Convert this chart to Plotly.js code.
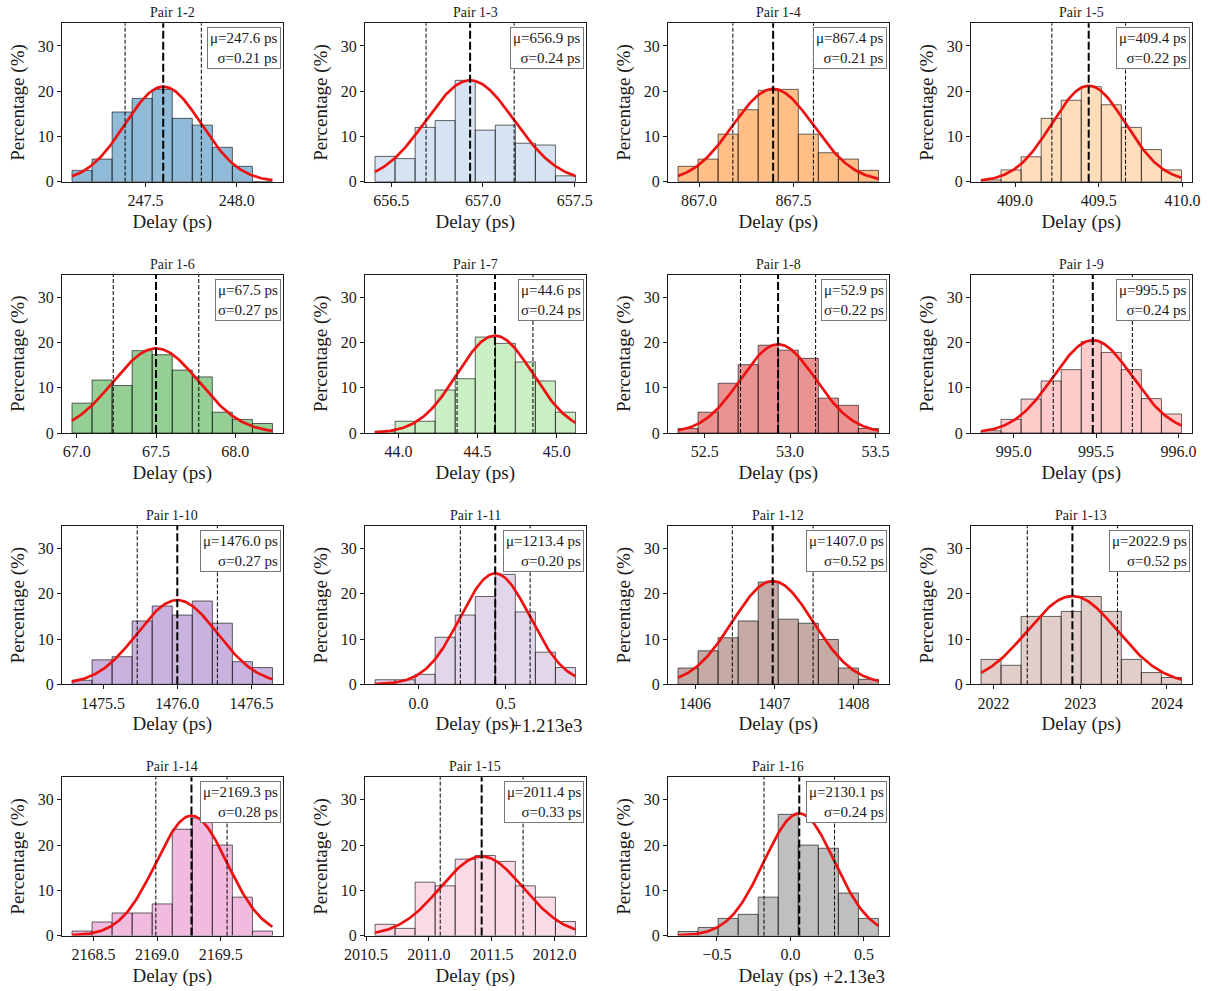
<!DOCTYPE html>
<html><head><meta charset="utf-8">
<script src="https://cdn.plot.ly/plotly-3.0.1.min.js"></script>
<style>html,body{margin:0;padding:0;background:#fff}#chart{width:1208px;height:991px}</style>
</head><body><div id="chart"></div>
<script>
// ---- data ----
const pairNames = ['Pair 1-2','Pair 1-3','Pair 1-4','Pair 1-5','Pair 1-6','Pair 1-7','Pair 1-8','Pair 1-9',
  'Pair 1-10','Pair 1-11','Pair 1-12','Pair 1-13','Pair 1-14','Pair 1-15','Pair 1-16'];
const binStart = [247.097, 656.412, 866.889, 408.797, 66.970, 43.851, 52.344, 994.802,
  1475.291, 1212.751, 1405.785, 2021.857, 2168.331, 2010.571, 2129.235];
const binWidth = [0.1099, 0.1092, 0.106, 0.1197, 0.1265, 0.1268, 0.1174, 0.1216,
  0.135, 0.1149, 0.253, 0.231, 0.1576, 0.1596, 0.1364];
const percent = [
  [2.5, 5.0, 15.4, 18.4, 20.4, 14.0, 12.5, 7.6, 3.4, 0],
  [5.6, 5.1, 12.0, 13.5, 22.4, 11.4, 12.5, 8.5, 8.1, 1.3],
  [3.4, 5.0, 10.5, 15.9, 20.2, 20.4, 10.5, 6.4, 5.0, 2.5],
  [0.4, 2.6, 5.5, 14.0, 18.0, 21.0, 17.0, 12.0, 7.1, 2.6],
  [6.6, 11.7, 10.5, 18.2, 17.3, 13.9, 12.4, 4.6, 3.0, 2.1],
  [0.4, 2.6, 2.6, 9.5, 12.0, 21.2, 19.8, 15.7, 11.5, 4.6],
  [1.0, 4.6, 11.0, 15.1, 19.4, 18.3, 16.5, 7.7, 6.1, 1.0],
  [0.5, 3.0, 7.5, 11.5, 14.0, 20.2, 17.8, 14.0, 7.6, 4.2],
  [0.9, 5.4, 6.1, 14.0, 17.3, 15.3, 18.4, 13.5, 5.0, 3.7],
  [1.0, 1.0, 2.2, 10.4, 15.3, 19.4, 24.3, 16.0, 7.1, 3.7],
  [3.6, 7.4, 10.3, 14.0, 22.6, 14.4, 13.5, 9.9, 3.6, 1.1],
  [5.5, 4.2, 15.0, 15.0, 16.1, 19.4, 16.1, 5.5, 2.6, 1.5],
  [1.0, 3.0, 5.0, 5.0, 7.0, 23.5, 26.0, 20.0, 8.5, 1.0],
  [2.5, 1.6, 11.8, 11.0, 16.9, 17.7, 16.4, 11.0, 8.5, 3.1],
  [0.9, 1.8, 3.8, 4.7, 8.5, 26.8, 20.0, 19.3, 9.4, 3.8]
];
const fitMu = [247.597, 656.93, 867.392, 409.44, 67.50, 44.61, 52.93, 995.48,
  1476.0, 1213.44, 1406.98, 2022.91, 2169.27, 2011.42, 2130.06];
const fitSigma = [0.209, 0.24, 0.213, 0.22, 0.27, 0.24, 0.22, 0.24,
  0.27, 0.20, 0.51, 0.52, 0.28, 0.33, 0.24];
const fitPeak = [21.0, 22.4, 20.5, 21.2, 18.7, 21.5, 19.6, 20.5,
  18.6, 24.5, 22.8, 19.5, 26.5, 17.5, 27.0];
const muText = ['247.6','656.9','867.4','409.4','67.5','44.6','52.9','995.5',
  '1476.0','1213.4','1407.0','2022.9','2169.3','2011.4','2130.1'];
const sigmaText = ['0.21','0.24','0.21','0.22','0.27','0.24','0.22','0.24',
  '0.27','0.20','0.52','0.52','0.28','0.33','0.24'];
const xOffset = [0,0,0,0,0,0,0,0,0,1213,0,0,0,0,2130];
const offsetText = ['','','','','','','','','','+1.213e3','','','','','+2.13e3'];
const xTickLabels = [
  ['247.5','248.0'], ['656.5','657.0','657.5'], ['867.0','867.5'], ['409.0','409.5','410.0'],
  ['67.0','67.5','68.0'], ['44.0','44.5','45.0'], ['52.5','53.0','53.5'], ['995.0','995.5','996.0'],
  ['1475.5','1476.0','1476.5'], ['0.0','0.5'], ['1406','1407','1408'], ['2022','2023','2024'],
  ['2168.5','2169.0','2169.5'], ['2010.5','2011.0','2011.5','2012.0'], ['\u22120.5','0.0','0.5']
];
const yTickVals = [0, 10, 20, 30];
const xTitle = 'Delay (ps)';
const yTitle = 'Percentage (%)';

// ---- styling ----
const barColors = ['#1f77b4','#aec7e8','#ff7f0e','#ffbb78','#2ca02c','#98df8a','#d62728','#ff9896',
  '#9467bd','#c5b0d5','#8c564b','#c49c94','#e377c2','#f7b6d2','#7f7f7f'];
function rgba(hex, a){const n=parseInt(hex.slice(1),16);return `rgba(${n>>16},${(n>>8)&255},${n&255},${a})`;}
const W = 1208, H = 991;
const colLeft = [62, 365, 668, 971], plotW = 220.5;
const rowTop = [23.3, 274.6, 525.9, 777.2], plotH = 158.4;
const FONT = '"Liberation Serif", "Times New Roman", serif';
const INK = '#1a1a1a';

const data = [], shapes = [], annotations = [];
const layout = {
  width: W, height: H, margin: {l:0, r:0, t:0, b:0},
  paper_bgcolor: '#fff', plot_bgcolor: '#fff', showlegend: false,
  font: {family: FONT, color: INK}, bargap: 0
};

pairNames.forEach((name, i) => {
  const n = i + 1, sfx = n === 1 ? '' : String(n);
  const r = Math.floor(i / 4), c = i % 4;
  const off = xOffset[i], a = binStart[i] - off, w = binWidth[i];
  const mu = fitMu[i] - off, sg = fitSigma[i];
  const centers = percent[i].map((_, k) => a + (k + 0.5) * w);
  data.push({
    type: 'bar', x: centers, y: percent[i], width: w,
    xaxis: 'x' + sfx, yaxis: 'y' + sfx,
    marker: {color: rgba(barColors[i], 0.5), line: {color: 'rgba(0,0,0,0.6)', width: 1}},
    hoverinfo: 'skip'
  });
  const cx = [], cy = [];
  const N = 160, x0 = a, x1 = a + 10 * w;
  for (let k = 0; k <= N; k++) {
    const x = x0 + (x1 - x0) * k / N;
    cx.push(x); cy.push(fitPeak[i] * Math.exp(-((x - mu) ** 2) / (2 * sg * sg)));
  }
  data.push({type: 'scatter', mode: 'lines', x: cx, y: cy, xaxis: 'x' + sfx, yaxis: 'y' + sfx,
    line: {color: '#ee1111', width: 2.7}, hoverinfo: 'skip'});

  const L = colLeft[c], T = rowTop[r];
  const tickVals = xTickLabels[i].map(s => parseFloat(s.replace('\u2212', '-')));
  const axBase = {
    showline: true, mirror: true, linecolor: INK, linewidth: 1.1,
    ticks: 'outside', ticklen: 4, tickwidth: 1, tickcolor: INK,
    showgrid: false, zeroline: false, tickfont: {family: FONT, size: 16, color: INK}
  };
  layout['xaxis' + sfx] = Object.assign({}, axBase, {
    domain: [L / W, (L + plotW) / W], anchor: 'y' + sfx,
    range: [a - 0.5 * w, a + 10.5 * w],
    tickmode: 'array', tickvals: tickVals, ticktext: xTickLabels[i],
    title: {text: xTitle, font: {family: FONT, size: 19, color: INK}, standoff: 6}
  });
  layout['yaxis' + sfx] = Object.assign({}, axBase, {
    domain: [1 - (T + plotH) / H, 1 - T / H], anchor: 'x' + sfx,
    range: [0, 35], tickmode: 'array', tickvals: yTickVals,
    title: {text: yTitle, font: {family: FONT, size: 19, color: INK}, standoff: 8}
  });

  const xd = 'x' + sfx + ' domain', yd = 'y' + sfx + ' domain';
  [[mu, 2, '8px,3px'], [mu - sg, 1, '4px,2px'], [mu + sg, 1, '4px,2px']].forEach(([xv, lw, d]) => {
    shapes.push({type: 'line', xref: 'x' + sfx, yref: yd, x0: xv, x1: xv, y0: 0, y1: 1,
      line: {color: '#000', width: lw, dash: d}, layer: 'above'});
  });

  annotations.push({xref: xd, yref: yd, x: 0.5, y: 1, xanchor: 'center', yanchor: 'bottom', yshift: 1,
    text: name, showarrow: false, font: {family: FONT, size: 14, color: INK}});
  annotations.push({xref: xd, yref: yd, x: 1, y: 1, xanchor: 'right', yanchor: 'top', xshift: -2, yshift: -4,
    text: '\u03bc=' + muText[i] + ' ps<br>\u03c3=' + sigmaText[i] + ' ps', align: 'right',
    showarrow: false, bgcolor: '#fff', bordercolor: '#777', borderwidth: 1, borderpad: 2,
    font: {family: FONT, size: 15, color: INK}});
  if (offsetText[i]) {
    annotations.push({xref: xd, yref: yd, x: 1, y: 0, xanchor: 'right', yanchor: 'middle', yshift: -41, xshift: -2,
      text: offsetText[i], showarrow: false, font: {family: FONT, size: 19, color: INK}});
  }
});
layout.shapes = shapes;
layout.annotations = annotations;
Plotly.newPlot('chart', data, layout, {staticPlot: true});
</script>
</body></html>
